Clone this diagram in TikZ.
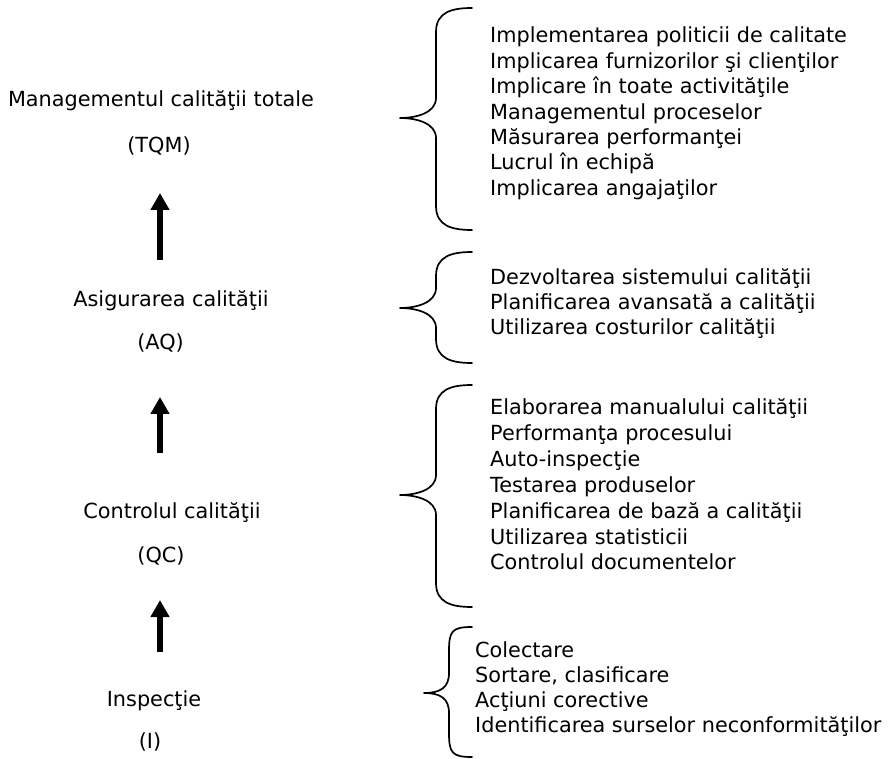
\documentclass[tikz,border=0pt]{standalone}
\usepackage{fontspec}
\setmainfont{DejaVu Sans}
\usetikzlibrary{arrows.meta}

% curly brace opening to the right:
% #1 tip x, #2 stem x, #3 end x, #4 top y, #5 tip y, #6 bottom y
\newcommand\curlybrace[6]{%
  \draw[bracestroke] (#3,#4) .. controls (#3-20,#4) and (#2,#4+4) .. (#2,#4+24)
    -- (#2,#5-20) .. controls (#2,#5-5) and (#1+16,#5) .. (#1,#5)
    .. controls (#1+16,#5) and (#2,#5+5) .. (#2,#5+20)
    -- (#2,#6-24) .. controls (#2,#6-4) and (#3-20,#6) .. (#3,#6);
}

\begin{document}
\begin{tikzpicture}[x=1pt,y=-1pt,
  txt/.style={inner sep=0pt, font=\fontsize{20.8}{25}\selectfont},
  item/.style={txt, anchor=base west},
  lbl/.style={txt, anchor=base},
  bracestroke/.style={line width=1.7pt, line cap=round, line join=round},
  uparrow/.style={line width=6.5pt, -{Triangle[width=18pt,length=17pt]}}]
\useasboundingbox (0,0) rectangle (895,759);

% stages on the left
\node[lbl] (tqm)   at (161,107) {Managementul calităţii totale};
\node[lbl] (tqmab) at (159,153) {(TQM)};
\node[lbl] (aq)    at (171,307) {Asigurarea calităţii};
\node[lbl] (aqab)  at (160.5,350) {(AQ)};
\node[lbl] (qc)    at (172,518) {Controlul calităţii};
\node[lbl] (qcab)  at (161,562) {(QC)};
\node[lbl] (insp)  at (154,706) {Inspecţie};
\node[lbl] (inab)  at (150,748) {(I)};

% arrows between stages
\coordinate (a1s) at (160,260); \coordinate (a1e) at (160,193);
\coordinate (a2s) at (160,453); \coordinate (a2e) at (160,397);
\coordinate (a3s) at (160,652); \coordinate (a3e) at (160,600);
\draw[uparrow] (a1s) -- (a1e);
\draw[uparrow] (a2s) -- (a2e);
\draw[uparrow] (a3s) -- (a3e);

% braces
\curlybrace{400}{436}{472}{8}{118}{230}
\curlybrace{400}{436}{472}{252}{308}{363}
\curlybrace{400}{436}{472}{385}{495}{607}
\curlybrace{424}{449}{472}{627}{693}{757}

% activity lists
\foreach \t [count=\i] in {Implementarea politicii de calitate,
    Implicarea furnizorilor şi clienţilor, Implicare în toate activităţile,
    Managementul proceselor, Măsurarea performanţei, Lucrul în echipă,
    Implicarea angajaţilor}
  \node[item] (tqm-\i) at (490,{43+25.4*(\i-1)}) {\t};

\foreach \t [count=\i] in {Dezvoltarea sistemului calităţii,
    Planificarea avansată a calităţii, Utilizarea costurilor calităţii}
  \node[item] (aq-\i) at (490,{284.5+25*(\i-1)}) {\t};

\foreach \t [count=\i] in {Elaborarea manualului calităţii,
    Performanţa procesului, Auto-inspecţie, Testarea produselor,
    Planificarea de bază a calităţii, Utilizarea statisticii,
    Controlul documentelor}
  \node[item] (qc-\i) at (490,{415+25.8*(\i-1)}) {\t};

\foreach \t [count=\i] in {Colectare, {Sortare, clasificare},
    Acţiuni corective, Identificarea surselor neconformităţilor}
  \node[item] (in-\i) at (475,{657+25.3*(\i-1)}) {\t};
\end{tikzpicture}
\end{document}
